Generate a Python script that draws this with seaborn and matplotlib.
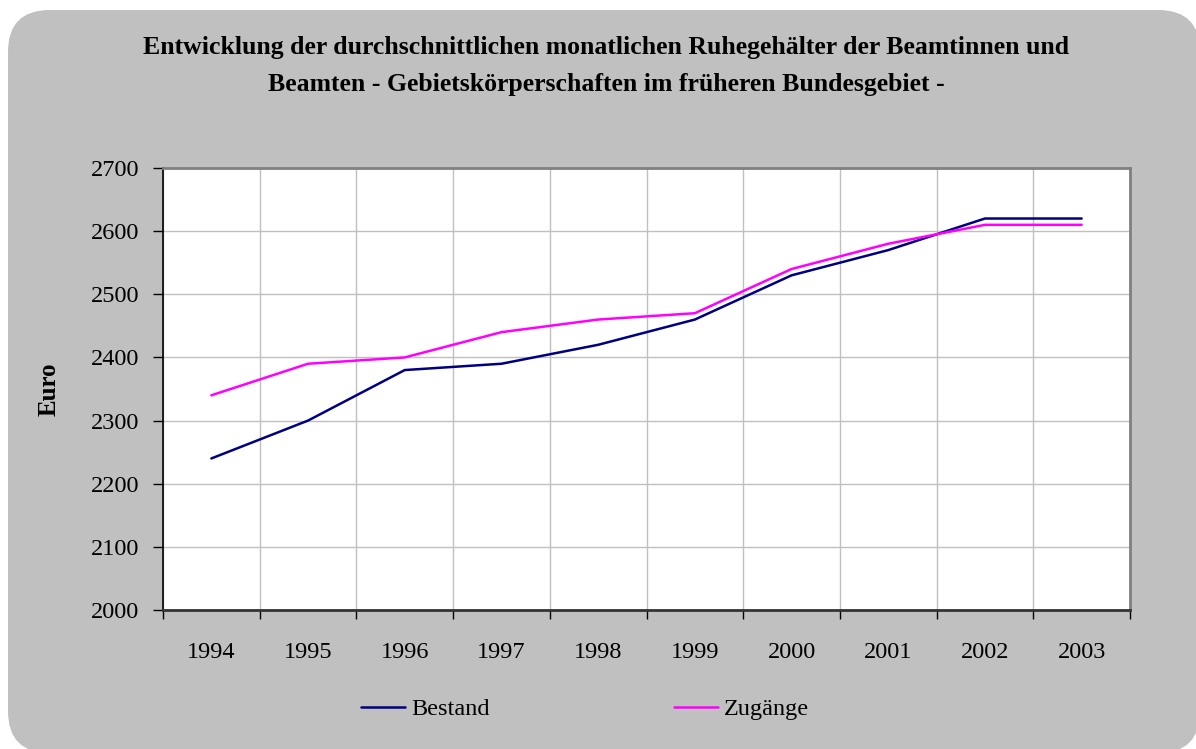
import numpy as np
import pandas as pd
import matplotlib
matplotlib.use("Agg")
import matplotlib.pyplot as plt
from matplotlib.patches import FancyBboxPatch
import seaborn as sns

# data
years = ["1994", "1995", "1996", "1997", "1998", "1999", "2000", "2001", "2002", "2003"]
bestand = [2240, 2300, 2380, 2390, 2420, 2460, 2530, 2570, 2620, 2620]
zugaenge = [2340, 2390, 2400, 2440, 2460, 2470, 2540, 2580, 2610, 2610]
series_names = ["Bestand", "Zugänge"]
series_colors = ["#000080", "#FF00FF"]
y_ticks = [2000, 2100, 2200, 2300, 2400, 2500, 2600, 2700]

title = ("Entwicklung der durchschnittlichen monatlichen Ruhegehälter der Beamtinnen und\n"
         "Beamten - Gebietskörperschaften im früheren Bundesgebiet -")

df = pd.DataFrame({
    "pos": list(range(len(years))) * 2,
    "wert": bestand + zugaenge,
    "reihe": [series_names[0]] * len(years) + [series_names[1]] * len(years),
})

sns.set_theme(style="white")
plt.rcParams["font.family"] = ["Liberation Serif", "DejaVu Serif"]
plt.rcParams["text.color"] = "black"
plt.rcParams["axes.labelcolor"] = "black"
plt.rcParams["xtick.color"] = "black"
plt.rcParams["ytick.color"] = "black"

fig = plt.figure(figsize=(11.96, 7.49), dpi=100)
fig.patch.set_facecolor("white")

# rounded grey background panel
W, H = 1196, 749
bg = FancyBboxPatch((8 / W, -4 / H), (W - 4) / W, (H - 6) / H,
                    boxstyle="round,pad=0,rounding_size=0.035",
                    transform=fig.transFigure, facecolor="#C0C0C0",
                    edgecolor="none", zorder=-5, mutation_aspect=W / H)
fig.patches.append(bg)

ax = fig.add_axes([163 / W, 1 - 610 / H, 967 / W, 442 / H])
ax.set_zorder(2)
ax.set_facecolor("white")

sns.lineplot(data=df, x="pos", y="wert", hue="reihe", palette=series_colors,
             linewidth=1.8, ax=ax, legend=False)

ax.set_xlim(-0.5, len(years) - 0.5)
ax.set_ylim(y_ticks[0], y_ticks[-1])

# category labels at centres, tick marks and gridlines at the boundaries
ax.set_xticks(range(len(years)))
ax.set_xticklabels(years, fontsize=17.5)
ax.set_xticks(np.arange(-0.5, len(years), 1.0), minor=True)
ax.tick_params(axis="x", which="major", bottom=True, length=0, pad=23)
ax.tick_params(axis="x", which="minor", bottom=True, length=6.5, width=1,
               color="black", direction="out")
ax.set_yticks(y_ticks)
ax.set_yticklabels([str(t) for t in y_ticks], fontsize=17.5)
ax.tick_params(axis="y", left=True, length=7, width=1, color="black",
               direction="out", pad=10)

ax.grid(False)
ax.grid(True, which="minor", axis="x", color="#C0C0C0", linewidth=1)
ax.grid(True, which="major", axis="y", color="#C0C0C0", linewidth=1)
ax.set_axisbelow(True)

for side in ["top", "right"]:
    ax.spines[side].set_color("#808080")
    ax.spines[side].set_linewidth(2)
ax.spines["left"].set_color("black")
ax.spines["left"].set_linewidth(1.2)
ax.spines["bottom"].set_color("#333333")
ax.spines["bottom"].set_linewidth(2)

ax.set_xlabel("")
ax.set_ylabel("Euro", fontsize=18, fontweight="bold", labelpad=22)

fig.text(606 / W, 1 - 66 / H, title, ha="center", va="center", fontsize=18.5,
         fontweight="bold", linespacing=1.82)

handles = [plt.Line2D([], [], color=c, linewidth=1.8) for c in series_colors]
fig.legend(handles, series_names, loc="center", bbox_to_anchor=(585 / W, 1 - 709 / H),
           ncol=2, frameon=False, fontsize=17.5, handlelength=1.8, handletextpad=0.25,
           columnspacing=7.6)

fig.savefig("out.png", dpi=100)
